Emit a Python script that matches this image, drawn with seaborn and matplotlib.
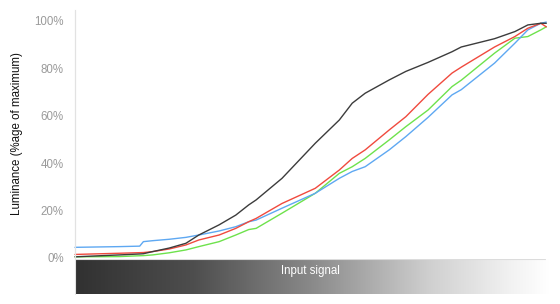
import numpy as np
import pandas as pd
import matplotlib
matplotlib.use("Agg")
import matplotlib.pyplot as plt
import seaborn as sns
from matplotlib.colors import LinearSegmentedColormap

signal = [0, 24, 35, 37, 42, 51, 60, 67, 78, 87, 94, 98, 112, 130, 143, 150, 157, 170, 179, 191, 204, 209, 227, 238, 245, 252, 255]
black = [0.5, 1.3, 1.7, 1.8, 2.7, 4.2, 6.2, 9.7, 14.0, 18.1, 22.4, 24.5, 33.6, 48.4, 58.2, 65.3, 69.5, 75.1, 78.7, 82.5, 87.0, 89.0, 92.5, 95.5, 98.3, 99.0, 99.0]
red = [1.5, 2.0, 2.25, 2.3, 2.7, 3.8, 5.5, 7.6, 9.7, 12.5, 15.3, 16.7, 23.0, 29.4, 37.1, 42.0, 45.6, 54.0, 59.6, 69.0, 78.0, 80.5, 89.0, 93.4, 96.9, 99.0, 97.5]
green = [0.5, 0.6, 0.95, 1.0, 1.3, 2.2, 3.4, 4.8, 6.9, 9.7, 12.0, 12.5, 18.9, 27.3, 35.7, 38.5, 42.0, 49.8, 55.4, 62.4, 72.3, 75.0, 86.4, 92.7, 93.4, 96.2, 97.5]
blue = [4.5, 4.8, 5.0, 6.9, 7.3, 7.9, 8.7, 9.7, 11.4, 13.2, 15.3, 16.0, 21.0, 27.3, 33.6, 36.5, 38.5, 45.6, 51.2, 59.3, 68.8, 71.0, 82.2, 90.6, 96.2, 99.0, 99.5]
yticks = [0, 20, 40, 60, 80, 100]
ytick_labels = ["0%", "20%", "40%", "60%", "80%", "100%"]

series = {"black": black, "red": red, "green": green, "blue": blue}
df = pd.concat([pd.DataFrame({"signal": signal, "lum": v, "ch": k}) for k, v in series.items()])
palette = {"black": "#3c3c3c", "red": "#f04a3e", "green": "#6ee24c", "blue": "#5ea8f2"}

sns.set_theme(style="white")
plt.rcParams["font.family"] = ["Liberation Sans", "DejaVu Sans"]

fig = plt.figure(figsize=(5.6, 3.04), dpi=100)
ax = fig.add_axes([75/560, 46/304, 475/560, 248/304])
sns.lineplot(data=df, x="signal", y="lum", hue="ch", palette=palette, hue_order=["green", "blue", "red", "black"],
             linewidth=1.0, legend=False, ax=ax)
ax.set_xlim(0, 257)
ax.set_ylim(0, 104.6)
for l in ax.lines:
    l.set_clip_on(False)
ax.set_yticks(yticks)
ax.set_yticklabels(ytick_labels, color="#9a9a9a", fontsize=8.3)
ax.tick_params(axis="y", length=0, pad=8)
ax.set_xticks([])
ax.set_xlabel("")
ax.set_ylabel("Luminance (%age of maximum)", fontsize=8.3, color="#111111", labelpad=8)
for s in ["top", "right", "bottom"]:
    ax.spines[s].set_visible(False)
ax.spines["left"].set_color("#e2e2e2")
ax.spines["left"].set_linewidth(0.8)

# gradient bar
bax = fig.add_axes([75/560, 10/304, 475/560, 35/304])
cmap = LinearSegmentedColormap.from_list(
    "g", [(0.0, "#313131"), (0.25, "#4e4e4e"), (0.5, "#8a8a8a"), (0.75, "#d0d0d0"), (0.92, "#f2f2f2"), (1.0, "#ffffff")])
grad = np.linspace(0, 1, 256).reshape(1, -1)
bax.imshow(grad, aspect="auto", cmap=cmap, extent=[0, 1, 0, 1])
bax.set_xticks([]); bax.set_yticks([])
for s in bax.spines.values():
    s.set_visible(False)
bax.axhline(1, color="#dcdcdc", lw=0.8, xmin=0, xmax=0.99)
bax.text(0.495, 0.65, "Input signal", color="white", fontsize=8.3, ha="center", va="center", transform=bax.transAxes)

# left axis line extends through bar
fig.add_artist(plt.Line2D([74.5/560, 74.5/560], [10/304, 294/304], color="#e2e2e2", lw=0.8))

fig.savefig("out.png", dpi=100)
